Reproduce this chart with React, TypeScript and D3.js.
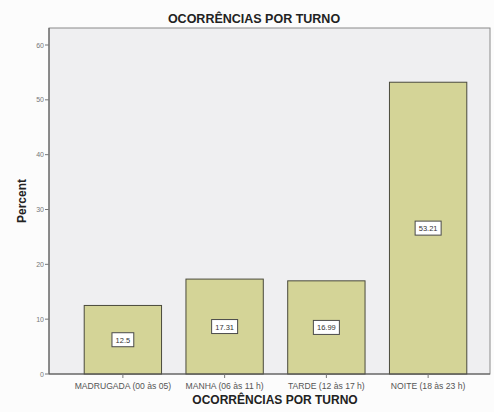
import React from "react";
import * as d3 from "d3";

const categories = [
  "MADRUGADA (00 às 05)",
  "MANHA (06 às 11 h)",
  "TARDE (12 às 17 h)",
  "NOITE (18 às 23 h)",
];
const percents = [12.5, 17.31, 16.99, 53.21];
const valueLabels = ["12.5", "17.31", "16.99", "53.21"];
const yTicks = [0, 10, 20, 30, 40, 50, 60];

const W = 494;
const H = 412;
const frame = { left: 49, right: 490, top: 28, bottom: 374 };
const font = "Arial, 'Liberation Sans', sans-serif";

export default function App() {
  const x = d3
    .scaleBand<string>()
    .domain(categories)
    .range([72, 479])
    .paddingInner(0.24)
    .paddingOuter(0.12);
  const y = d3.scaleLinear().domain([0, 60]).range([frame.bottom, 45]);

  return (
    <svg
      width={W}
      height={H}
      style={{ position: "absolute", left: 0, top: 0, background: "#fcfcfc" }}
    >
      <rect x={0} y={0} width={W} height={H} fill="#fcfcfc" />
      <text
        x={254}
        y={23}
        textAnchor="middle"
        fontFamily={font}
        fontWeight="bold"
        fontSize={12.5}
        fill="#222"
      >
        OCORRÊNCIAS POR TURNO
      </text>

      {/* plot frame */}
      <rect
        x={frame.left}
        y={frame.top}
        width={frame.right - frame.left}
        height={frame.bottom - frame.top}
        fill="#efeff1"
        stroke="#8a8a8a"
        strokeWidth={1}
      />

      {/* bars */}
      {categories.map((c, i) => (
        <rect
          key={c}
          x={x(c)!}
          y={y(percents[i])}
          width={x.bandwidth()}
          height={y(0) - y(percents[i])}
          fill="#d4d497"
          stroke="#4a4a3c"
          strokeWidth={1}
        />
      ))}

      {/* value labels */}
      {categories.map((c, i) => {
        const cx = x(c)! + x.bandwidth() / 2;
        const cy = (y(percents[i]) + y(0)) / 2;
        const w = valueLabels[i].length * 4.2 + 5;
        return (
          <g key={"l" + c}>
            <rect
              x={cx - w / 2}
              y={cy - 7}
              width={w}
              height={14}
              fill="#ffffff"
              stroke="#4a4a4a"
              strokeWidth={1}
            />
            <text
              x={cx}
              y={cy + 3}
              textAnchor="middle"
              fontFamily={font}
              fontSize={7.5}
              fill="#333"
            >
              {valueLabels[i]}
            </text>
          </g>
        );
      })}

      {/* axes lines */}
      <line x1={frame.left} x2={frame.right} y1={frame.bottom} y2={frame.bottom} stroke="#555" />
      <line x1={frame.left} x2={frame.left} y1={frame.top} y2={frame.bottom} stroke="#555" />

      {/* y ticks */}
      {yTicks.map((t) => (
        <g key={t}>
          <line x1={frame.left - 4} x2={frame.left} y1={y(t)} y2={y(t)} stroke="#777" />
          <text
            x={frame.left - 5}
            y={y(t) + 2.5}
            textAnchor="end"
            fontFamily={font}
            fontSize={7}
            fill="#777"
          >
            {t}
          </text>
        </g>
      ))}

      {/* x ticks */}
      {categories.map((c) => {
        const cx = x(c)! + x.bandwidth() / 2;
        return (
          <g key={"t" + c}>
            <line x1={cx} x2={cx} y1={frame.bottom} y2={frame.bottom + 4} stroke="#777" />
            <text
              x={cx}
              y={389}
              textAnchor="middle"
              fontFamily={font}
              fontSize={8.6}
              fill="#555"
            >
              {c}
            </text>
          </g>
        );
      })}

      <text
        x={275}
        y={404}
        textAnchor="middle"
        fontFamily={font}
        fontWeight="bold"
        fontSize={12}
        fill="#222"
      >
        OCORRÊNCIAS POR TURNO
      </text>
      <text
        transform={`translate(26,201) rotate(-90)`}
        textAnchor="middle"
        fontFamily={font}
        fontWeight="bold"
        fontSize={12}
        fill="#222"
      >
        Percent
      </text>
    </svg>
  );
}
